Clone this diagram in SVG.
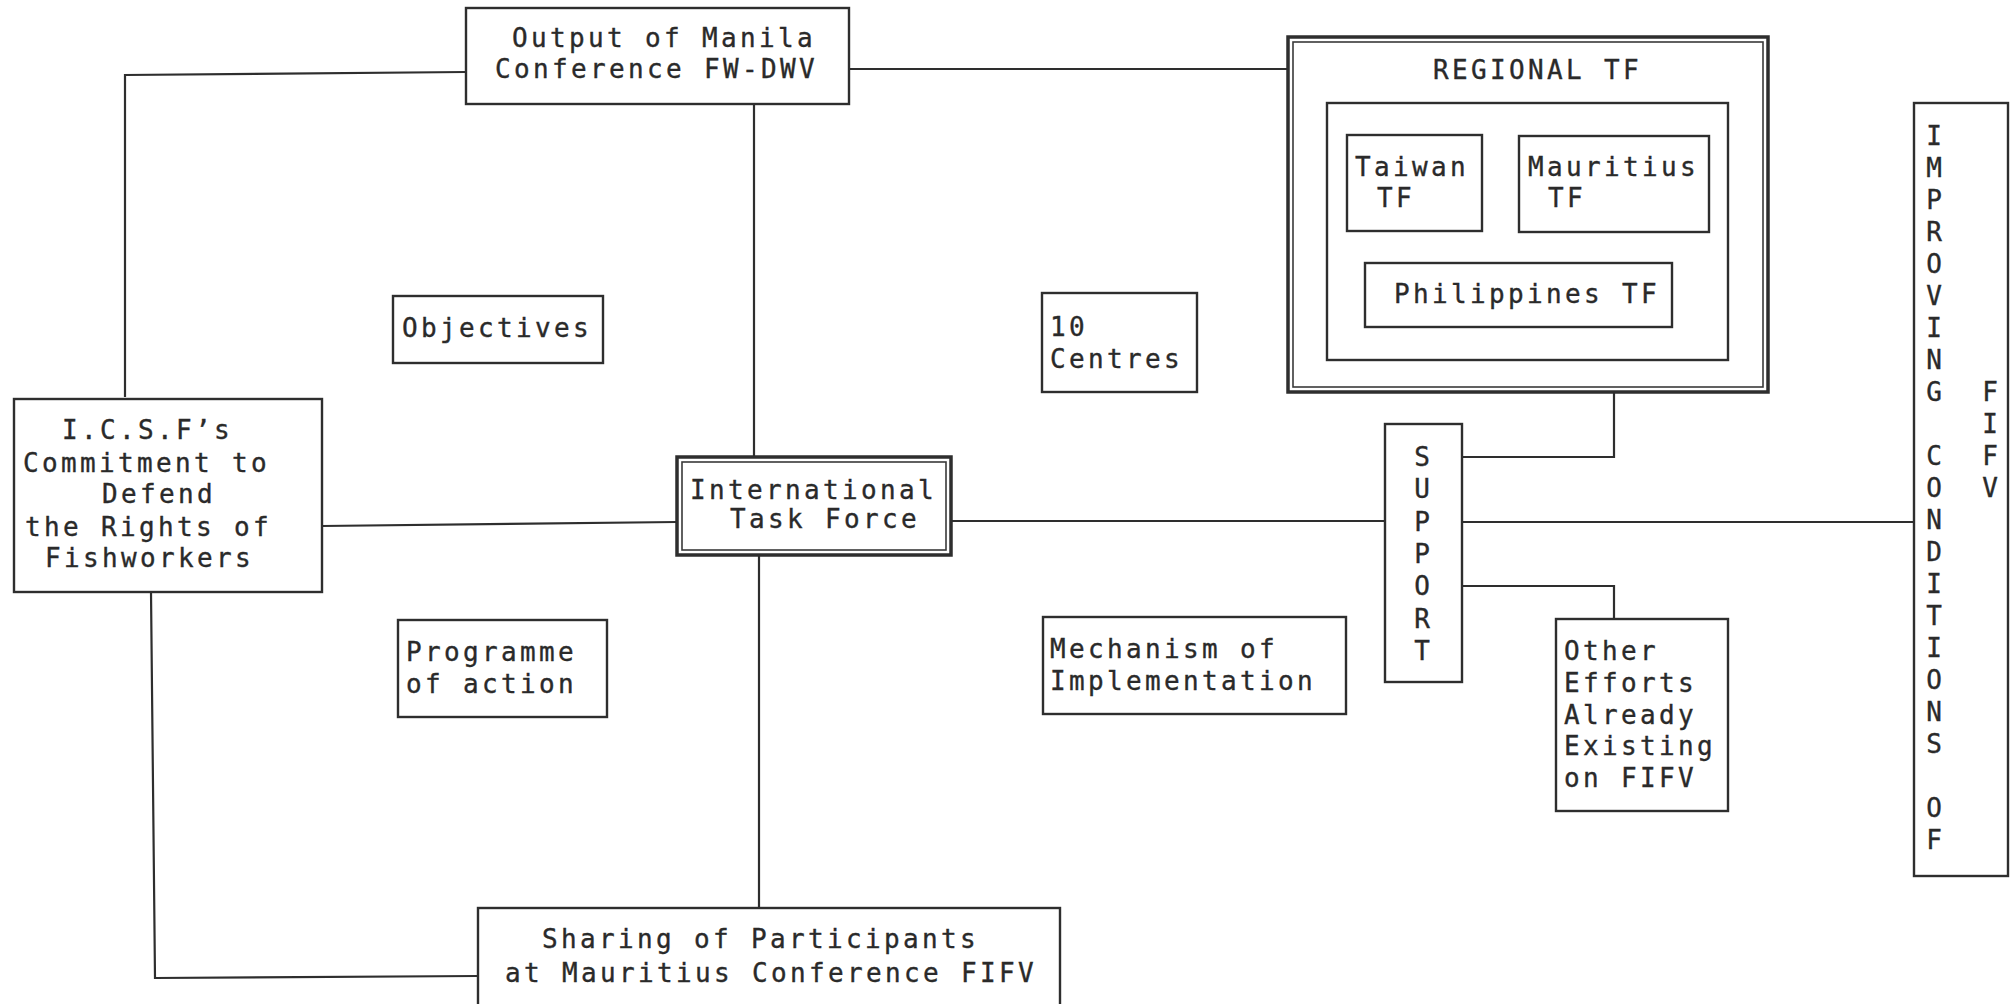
<svg xmlns="http://www.w3.org/2000/svg" width="2016" height="1004" viewBox="0 0 2016 1004">
<style>
  .bg{fill:#ffffff}
  .box{fill:none;stroke:#2e2e2e;stroke-width:2.4}
  .thick{fill:none;stroke:#2e2e2e;stroke-width:3.5}
  .inner{fill:none;stroke:#3a3a3a;stroke-width:1.6}
  .conn{fill:none;stroke:#2e2e2e;stroke-width:2.2}
  text{font-family:"DejaVu Sans Mono","Liberation Mono",monospace;font-size:26px;fill:#2a2a2a;stroke:#2a2a2a;stroke-width:0.35}
  .t{letter-spacing:3.35px}
  .v{text-anchor:middle}
</style>
<rect class="bg" x="0" y="0" width="2016" height="1004"/>

<g id="connectors">
  <path class="conn" d="M466,72 L125,75 L125,397"/>
  <path class="conn" d="M849,69 L1288,69"/>
  <path class="conn" d="M754,104 L754,457"/>
  <path class="conn" d="M759,555 L759,908"/>
  <path class="conn" d="M322,526 L677,522"/>
  <path class="conn" d="M151,592 L155,978 L478,976"/>
  <path class="conn" d="M951,521 L1385,521"/>
  <path class="conn" d="M1462,522 L1914,522"/>
  <path class="conn" d="M1462,457 L1614,457 L1614,392"/>
  <path class="conn" d="M1462,586 L1614,586 L1614,619"/>
</g>

<g id="output-manila">
  <rect class="box" x="466" y="8" width="383" height="96"/>
  <text class="t" x="512" y="47">Output of Manila</text>
  <text class="t" x="495" y="78">Conference FW-DWV</text>
</g>

<g id="regional-tf">
  <rect class="thick" x="1288" y="37" width="480" height="355"/>
  <rect class="inner" x="1293" y="42" width="470" height="345"/>
  <text class="t" x="1433" y="79">REGIONAL TF</text>
  <rect class="box" x="1327" y="103" width="401" height="257"/>
</g>

<g id="taiwan-tf">
  <rect class="box" x="1347" y="135" width="135" height="96"/>
  <text class="t" x="1355" y="176">Taiwan</text>
  <text class="t" x="1377" y="207">TF</text>
</g>

<g id="mauritius-tf">
  <rect class="box" x="1519" y="136" width="190" height="96"/>
  <text class="t" x="1528" y="176">Mauritius</text>
  <text class="t" x="1548" y="207">TF</text>
</g>

<g id="philippines-tf">
  <rect class="box" x="1365" y="263" width="307" height="64"/>
  <text class="t" x="1394" y="303">Philippines TF</text>
</g>

<g id="objectives">
  <rect class="box" x="393" y="296" width="210" height="67"/>
  <text class="t" x="402" y="337">Objectives</text>
</g>

<g id="ten-centres">
  <rect class="box" x="1042" y="293" width="155" height="99"/>
  <text class="t" x="1050" y="336">10</text>
  <text class="t" x="1050" y="368">Centres</text>
</g>

<g id="icsf">
  <rect class="box" x="14" y="399" width="308" height="193"/>
  <text class="t" x="62" y="439">I.C.S.F’s</text>
  <text class="t" x="23" y="472">Commitment to</text>
  <text class="t" x="102" y="503">Defend</text>
  <text class="t" x="25" y="536">the Rights of</text>
  <text class="t" x="45" y="567">Fishworkers</text>
</g>

<g id="international-tf">
  <rect class="thick" x="677" y="457" width="274" height="98"/>
  <rect class="inner" x="682" y="462" width="264" height="88"/>
  <text class="t" x="690" y="499">International</text>
  <text class="t" x="730" y="528">Task Force</text>
</g>

<g id="support">
  <rect class="box" x="1385" y="424" width="77" height="258"/>
  <text class="v" x="1422" y="466">S</text>
  <text class="v" x="1422" y="498">U</text>
  <text class="v" x="1422" y="531">P</text>
  <text class="v" x="1422" y="563">P</text>
  <text class="v" x="1422" y="595">O</text>
  <text class="v" x="1422" y="628">R</text>
  <text class="v" x="1422" y="660">T</text>
</g>

<g id="programme">
  <rect class="box" x="398" y="620" width="209" height="97"/>
  <text class="t" x="406" y="661">Programme</text>
  <text class="t" x="406" y="693">of action</text>
</g>

<g id="mechanism">
  <rect class="box" x="1043" y="617" width="303" height="97"/>
  <text class="t" x="1050" y="658">Mechanism of</text>
  <text class="t" x="1050" y="690">Implementation</text>
</g>

<g id="other-efforts">
  <rect class="box" x="1556" y="619" width="172" height="192"/>
  <text class="t" x="1564" y="660">Other</text>
  <text class="t" x="1564" y="692">Efforts</text>
  <text class="t" x="1564" y="724">Already</text>
  <text class="t" x="1564" y="755">Existing</text>
  <text class="t" x="1564" y="787">on FIFV</text>
</g>

<g id="improving">
  <rect class="box" x="1914" y="103" width="94" height="773"/>
  <text class="v" x="1934" y="145">I</text>
  <text class="v" x="1934" y="177">M</text>
  <text class="v" x="1934" y="209">P</text>
  <text class="v" x="1934" y="241">R</text>
  <text class="v" x="1934" y="273">O</text>
  <text class="v" x="1934" y="305">V</text>
  <text class="v" x="1934" y="337">I</text>
  <text class="v" x="1934" y="369">N</text>
  <text class="v" x="1934" y="401">G</text>
  <text class="v" x="1934" y="465">C</text>
  <text class="v" x="1934" y="497">O</text>
  <text class="v" x="1934" y="529">N</text>
  <text class="v" x="1934" y="561">D</text>
  <text class="v" x="1934" y="593">I</text>
  <text class="v" x="1934" y="625">T</text>
  <text class="v" x="1934" y="657">I</text>
  <text class="v" x="1934" y="689">O</text>
  <text class="v" x="1934" y="721">N</text>
  <text class="v" x="1934" y="753">S</text>
  <text class="v" x="1934" y="817">O</text>
  <text class="v" x="1934" y="849">F</text>
  <text class="v" x="1990" y="401">F</text>
  <text class="v" x="1990" y="433">I</text>
  <text class="v" x="1990" y="465">F</text>
  <text class="v" x="1990" y="497">V</text>
</g>

<g id="sharing">
  <rect class="box" x="478" y="908" width="582" height="110"/>
  <text class="t" x="542" y="948">Sharing of Participants</text>
  <text class="t" x="505" y="982">at Mauritius Conference FIFV</text>
</g>
</svg>
